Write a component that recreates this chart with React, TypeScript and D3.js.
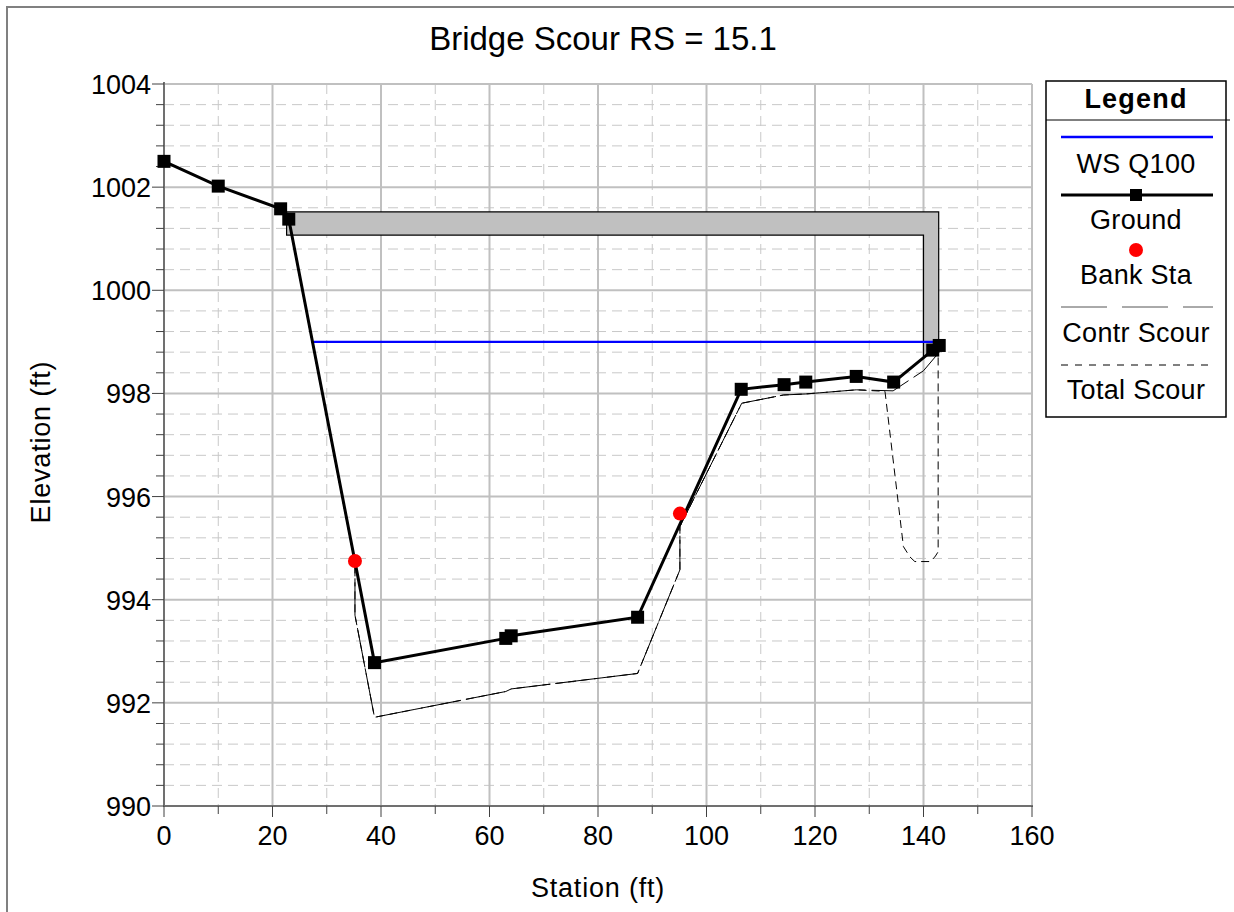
import React from "react";
import * as d3 from "d3";

// ---- data ----
const groundSta = [0, 10, 21.5, 23, 38.8, 63, 64, 87.3, 106.4, 114.3, 118.3, 127.6, 134.5, 141.7, 142.9];
const groundElev = [1002.5, 1002.02, 1001.58, 1001.38, 992.78, 993.25, 993.3, 993.66, 998.08, 998.17, 998.22, 998.33, 998.22, 998.84, 998.93];

const bankSta = [35.2, 95.1];
const bankElev = [994.75, 995.67];

const wsSta = [27.6, 142.9];
const wsElev = [999.0, 999.0];

const contrSta = [23, 35.2, 35.2, 38.8, 63, 64, 87.3, 87.8, 95.1, 95.1, 106.5, 114.2, 118.3, 127.6, 134.4, 140, 142.9];
const contrElev = [1001.35, 994.7, 993.7, 991.72, 992.22, 992.27, 992.57, 992.7, 994.58, 995.42, 997.81, 997.97, 997.99, 998.07, 998.05, 998.44, 998.8];

const totalSta = [23, 35.2, 35.2, 38.8, 63, 64, 87.3, 87.8, 95.1, 95.1, 106.5, 114.2, 118.3, 127.6, 132.9, 136.3, 137.5, 138.4, 141.2, 142.1, 142.7, 142.7];
const totalElev = [1001.35, 994.7, 993.7, 991.72, 992.22, 992.27, 992.57, 992.7, 994.58, 995.42, 997.81, 997.97, 997.99, 998.07, 998.04, 995.03, 994.83, 994.74, 994.74, 994.83, 994.93, 998.8];

const deckSta = [22.6, 142.8, 142.8, 140, 140, 22.6];
const deckElev = [1001.52, 1001.52, 998.9, 998.7, 1001.07, 1001.07];

const xTicks = [0, 20, 40, 60, 80, 100, 120, 140, 160];
const yTicks = [990, 992, 994, 996, 998, 1000, 1002, 1004];
const xMinor = [10, 30, 50, 70, 90, 110, 130, 150];

const legendItems = ["WS Q100", "Ground", "Bank Sta", "Contr Scour", "Total Scour"];

const title = "Bridge Scour RS = 15.1";
const xTitle = "Station (ft)";
const yTitle = "Elevation (ft)";

const FONT = "'Liberation Sans', Arial, sans-serif";

export default function App() {
  const X0 = 164, X1 = 1032, Y0 = 84, Y1 = 806;
  const x = d3.scaleLinear().domain([0, 160]).range([X0, X1]);
  const y = d3.scaleLinear().domain([990, 1004]).range([Y1, Y0]);

  const yMinor: number[] = [];
  for (let i = 0; i <= 35; i++) {
    const v = 990 + i * 0.4;
    if (i % 5 !== 0) yMinor.push(+v.toFixed(2));
  }

  const line = d3
    .line<[number, number]>()
    .x((d) => x(d[0]))
    .y((d) => y(d[1]));
  const zip = (a: number[], b: number[]) => a.map((v, i) => [v, b[i]] as [number, number]);

  const ground = zip(groundSta, groundElev);
  const banks = zip(bankSta, bankElev);

  const LX = 1046, LW = 180, LCX = LX + LW / 2;
  const ly = [137, 195, 250, 307, 365];
  const lt = [164, 220, 275, 333, 390];

  return (
    <svg
      width={1234}
      height={912}
      style={{ position: "absolute", left: 0, top: 0, background: "#fff" }}
      fontFamily={FONT}
    >
      <rect x={0} y={0} width={1234} height={912} fill="#fff" />
      {/* outer frame */}
      <rect x={7} y={7} width={1250} height={930} fill="none" stroke="#808080" strokeWidth={2} />

      {/* minor grid */}
      {xMinor.map((v) => (
        <line key={"xm" + v} x1={x(v)} x2={x(v)} y1={Y0} y2={Y1} stroke="#c8c8c8" strokeWidth={1} strokeDasharray="10,6" />
      ))}
      {yMinor.map((v) => (
        <line key={"ym" + v} x1={X0} x2={X1} y1={y(v)} y2={y(v)} stroke="#c8c8c8" strokeWidth={1} strokeDasharray="10,6" />
      ))}
      {/* major grid */}
      {xTicks.slice(1).map((v) => (
        <line key={"xM" + v} x1={x(v)} x2={x(v)} y1={Y0} y2={Y1} stroke="#c0c0c0" strokeWidth={2} />
      ))}
      {yTicks.slice(1).map((v) => (
        <line key={"yM" + v} x1={X0} x2={X1} y1={y(v)} y2={y(v)} stroke="#c0c0c0" strokeWidth={2} />
      ))}

      {/* axes */}
      <line x1={X0} x2={X0} y1={Y0 - 2} y2={Y1 + 1} stroke="#707070" strokeWidth={2} />
      <line x1={X0 - 1} x2={X1 + 1} y1={Y1} y2={Y1} stroke="#707070" strokeWidth={2} />
      {yTicks.map((v) => (
        <line key={"yt" + v} x1={X0 - 12} x2={X0} y1={y(v)} y2={y(v)} stroke="#404040" strokeWidth={1} />
      ))}
      {yMinor.map((v) => (
        <line key={"ytm" + v} x1={X0 - 8} x2={X0} y1={y(v)} y2={y(v)} stroke="#404040" strokeWidth={1} />
      ))}
      {xTicks.map((v) => (
        <line key={"xt" + v} x1={x(v)} x2={x(v)} y1={Y1} y2={Y1 + 11} stroke="#404040" strokeWidth={1} />
      ))}
      {xMinor.map((v) => (
        <line key={"xtm" + v} x1={x(v)} x2={x(v)} y1={Y1} y2={Y1 + 8} stroke="#404040" strokeWidth={1} />
      ))}
      {yTicks.map((v) => (
        <text key={"yl" + v} x={X0 - 13} y={y(v) + 10} textAnchor="end" fontSize={27} fill="#000">
          {v}
        </text>
      ))}
      {xTicks.map((v) => (
        <text key={"xl" + v} x={x(v)} y={845} textAnchor="middle" fontSize={27} fill="#000">
          {v}
        </text>
      ))}

      {/* titles */}
      <text x={603} y={50} textAnchor="middle" fontSize={33} fill="#000">
        {title}
      </text>
      <text x={598} y={897} textAnchor="middle" fontSize={27} letterSpacing={0.8} fill="#000">
        {xTitle}
      </text>
      <text transform="translate(50,442) rotate(-90)" textAnchor="middle" fontSize={27} letterSpacing={0.8} fill="#000">
        {yTitle}
      </text>

      {/* scour lines (under bridge) */}
      <path d={line(zip(contrSta, contrElev)) || ""} fill="none" stroke="#000" strokeWidth={1} strokeDasharray="40,6" />
      <path d={line(zip(totalSta, totalElev)) || ""} fill="none" stroke="#000" strokeWidth={1} strokeDasharray="8,5" />

      {/* bridge */}
      <path d={(line(zip(deckSta, deckElev)) || "") + "Z"} fill="#c0c0c0" stroke="#000" strokeWidth={1.2} />

      {/* water surface */}
      <path d={line(zip(wsSta, wsElev)) || ""} fill="none" stroke="#0000ff" strokeWidth={2.4} />

      {/* ground */}
      <path d={line(ground) || ""} fill="none" stroke="#000" strokeWidth={3} />
      {ground.map((d, i) => (
        <rect key={"g" + i} x={x(d[0]) - 6.5} y={y(d[1]) - 6.5} width={13} height={13} fill="#000" />
      ))}
      {banks.map((d, i) => (
        <circle key={"b" + i} cx={x(d[0])} cy={y(d[1])} r={7} fill="#ff0000" />
      ))}

      {/* legend */}
      <rect x={LX} y={81} width={LW} height={336} fill="#fff" stroke="#000" strokeWidth={1.5} />
      <text x={LCX} y={108} textAnchor="middle" fontSize={27} fontWeight="bold" letterSpacing={1.2} fill="#000">
        Legend
      </text>
      <line x1={LX} x2={1230} y1={120} y2={120} stroke="#000" strokeWidth={1} />
      <line x1={1061} x2={1213} y1={ly[0]} y2={ly[0]} stroke="#0000ff" strokeWidth={2.4} />
      <line x1={1061} x2={1213} y1={ly[1]} y2={ly[1]} stroke="#000" strokeWidth={3} />
      <rect x={LCX - 6} y={ly[1] - 6} width={12} height={12} fill="#000" />
      <circle cx={LCX} cy={ly[2]} r={7} fill="#ff0000" />
      <line x1={1061} x2={1213} y1={ly[3]} y2={ly[3]} stroke="#555" strokeWidth={1} strokeDasharray="46,15" />
      <line x1={1061} x2={1213} y1={ly[4]} y2={ly[4]} stroke="#000" strokeWidth={1} strokeDasharray="7,7" />
      {legendItems.map((t, i) => (
        <text key={t} x={LCX} y={lt[i] + 9} textAnchor="middle" fontSize={27} letterSpacing={0.3} fill="#000">
          {t}
        </text>
      ))}
    </svg>
  );
}
